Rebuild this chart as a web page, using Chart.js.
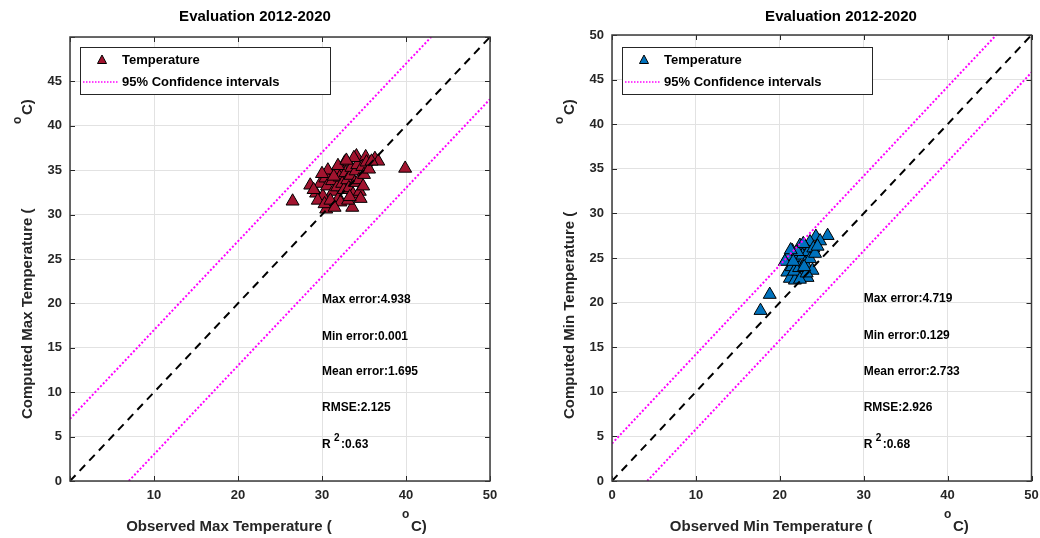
<!DOCTYPE html>
<html>
<head>
<meta charset="utf-8">
<script src="https://cdn.jsdelivr.net/npm/chart.js@4.4.1/dist/chart.umd.min.js"></script>
<style>
  html, body { margin: 0; padding: 0; background: #fff; }
  #wrap { position: relative; width: 1040px; height: 538px; }
  canvas { position: absolute; top: 0; }
  #chartMax { left: 0; }
  #chartMin { left: 520px; }
</style>
</head>
<body>
<div id="wrap">
  <canvas id="chartMax" width="520" height="538"></canvas>
  <canvas id="chartMin" width="520" height="538"></canvas>
</div>
<script>
// --- data ---
const AXIS_MIN = 0;
const AXIS_MAX = 50;

const maxObserved = [26.5, 39.9, 34.1, 35.2, 36.3, 36.7, 32.7, 32.3, 30.5, 33.6, 28.6, 29.3, 29.8, 30.1, 30.4,
  30.6, 30.9, 31.2, 31.3, 31.6, 31.8, 32.0, 32.1, 32.4, 32.6, 32.8, 33.0, 33.2, 33.4, 33.5, 33.7, 33.9, 34.0,
  34.2, 34.4, 34.5, 34.8, 35.0, 35.3, 35.6, 34.6, 29.5, 30.3, 31.0, 32.2, 31.5, 33.1, 30.7, 31.9, 33.8, 35.9,
  29.0, 34.9, 32.9, 31.4, 30.0, 33.3];
const maxComputed = [31.5, 35.2, 36.6, 36.5, 36.3, 36.0, 35.9, 35.1, 30.6, 30.8, 33.3, 32.4, 33.5, 32.1, 34.1,
  33.2, 34.6, 33.8, 32.6, 34.9, 33.1, 31.9, 34.2, 33.5, 32.8, 34.7, 33.9, 33.0, 34.4, 35.3, 32.3, 33.6, 34.9,
  35.6, 33.9, 32.6, 35.4, 34.5, 35.9, 35.1, 31.8, 31.6, 31.2, 31.6, 31.4, 30.8, 31.6, 35.0, 35.5, 36.4, 36.0,
  32.8, 33.2, 36.1, 34.3, 34.6, 32.0];

const minObserved = [17.7, 18.8, 25.7, 24.3, 23.6, 24.8, 23.0, 22.4, 21.5, 21.0, 20.6, 20.9, 21.2, 21.8, 22.6,
  23.3, 21.4, 22.0, 22.7, 23.4, 24.0, 21.7, 22.3, 23.0, 23.6, 24.2, 22.1, 21.3, 22.8, 23.9, 22.4, 21.6, 23.2,
  24.5, 22.9];
const minComputed = [19.1, 20.9, 27.5, 27.4, 26.8, 26.9, 26.3, 26.4, 25.8, 25.2, 24.6, 23.4, 22.7, 22.5, 22.9,
  22.8, 24.0, 24.8, 25.3, 25.7, 26.1, 23.5, 23.9, 24.4, 24.9, 25.5, 25.7, 25.9, 26.6, 23.6, 22.6, 24.6, 23.3,
  26.3, 24.0];

const maxBandOffset = 7;
const minBandOffset = 4.2;

const maxStats = ['Max error:4.938', 'Min error:0.001', 'Mean error:1.695', 'RMSE:2.125'];
const maxR2 = ':0.63';
const minStats = ['Max error:4.719', 'Min error:0.129', 'Mean error:2.733', 'RMSE:2.926'];
const minR2 = ':0.68';

const FONT = '"Liberation Sans", Arial, Helvetica, sans-serif';
const INK = '#262626';

// draws the MATLAB-ish furniture: box, inward ticks, titles, legend, stats text
const decoPlugin = {
  id: 'deco',
  afterDraw(chart, args, o) {
    const ctx = chart.ctx;
    const a = chart.chartArea;
    const xs = chart.scales.x, ys = chart.scales.y;
    ctx.save();

    // inward tick marks
    ctx.strokeStyle = INK;
    ctx.lineWidth = 1;
    ctx.beginPath();
    xs.ticks.forEach(t => {
      const px = Math.round(xs.getPixelForValue(t.value)) + 0.5;
      ctx.moveTo(px, a.bottom); ctx.lineTo(px, a.bottom - 5);
      ctx.moveTo(px, a.top); ctx.lineTo(px, a.top + 5);
    });
    ys.ticks.forEach(t => {
      const py = Math.round(ys.getPixelForValue(t.value)) + 0.5;
      ctx.moveTo(a.left, py); ctx.lineTo(a.left + 5, py);
      ctx.moveTo(a.right, py); ctx.lineTo(a.right - 5, py);
    });
    ctx.stroke();

    // box
    ctx.strokeStyle = '#3a3a3a';
    ctx.lineWidth = 1.5;
    ctx.strokeRect(a.left, a.top, a.right - a.left, a.bottom - a.top);

    // title
    ctx.fillStyle = '#000';
    ctx.font = 'bold 15px ' + FONT;
    ctx.textAlign = 'center';
    ctx.textBaseline = 'middle';
    ctx.fillText('Evaluation 2012-2020', o.titleX, 17);

    // x title with superscript degree
    ctx.fillStyle = INK;
    ctx.font = 'bold 15px ' + FONT;
    ctx.textAlign = 'center';
    ctx.fillText(o.xTitle, a.left + 159, 527);
    ctx.textAlign = 'left';
    ctx.fillText('C)', a.left + 341, 527);
    ctx.font = 'bold 12px ' + FONT;
    ctx.fillText('o', a.left + 332, 515);

    // y title, rotated
    ctx.save();
    ctx.translate(a.left - 42, 419);
    ctx.rotate(-Math.PI / 2);
    ctx.font = 'bold 15px ' + FONT;
    ctx.textAlign = 'left';
    ctx.fillText(o.yTitle, 0, 0);
    ctx.fillText('C)', 304, 0);
    ctx.font = 'bold 12px ' + FONT;
    ctx.fillText('o', 295, -10);
    ctx.restore();

    // legend
    const lx = a.left + 10, ly = 47;
    ctx.fillStyle = '#fff';
    ctx.fillRect(lx, ly, 250, 47);
    ctx.strokeStyle = INK;
    ctx.lineWidth = 1;
    ctx.strokeRect(lx + 0.5, ly + 0.5, 250, 47);
    ctx.beginPath();
    ctx.moveTo(lx + 22, ly + 8);
    ctx.lineTo(lx + 26.5, ly + 16.5);
    ctx.lineTo(lx + 17.5, ly + 16.5);
    ctx.closePath();
    ctx.fillStyle = o.color;
    ctx.fill();
    ctx.strokeStyle = '#000';
    ctx.stroke();
    ctx.save();
    ctx.strokeStyle = '#ff00ff';
    ctx.lineWidth = 1.5;
    ctx.setLineDash([1.5, 1.5]);
    ctx.beginPath();
    ctx.moveTo(lx + 3, ly + 35); ctx.lineTo(lx + 38, ly + 35);
    ctx.stroke();
    ctx.restore();
    ctx.fillStyle = '#000';
    ctx.font = 'bold 13px ' + FONT;
    ctx.textAlign = 'left';
    ctx.textBaseline = 'middle';
    ctx.fillText('Temperature', lx + 42, ly + 13);
    ctx.fillText('95% Confidence intervals', lx + 42, ly + 35);

    // stats
    const sx = xs.getPixelForValue(30);
    const rows = [20.4, 16.3, 12.3, 8.2];
    ctx.font = 'bold 12px ' + FONT;
    o.stats.forEach((s, i) => ctx.fillText(s, sx, ys.getPixelForValue(rows[i])));
    const ry = ys.getPixelForValue(4.1);
    ctx.fillText('R', sx, ry);
    ctx.fillText(o.r2, sx + 19, ry);
    ctx.font = 'bold 10px ' + FONT;
    ctx.fillText('2', sx + 12, ry - 6);

    ctx.restore();
  }
};

function buildChart(canvasId, cfg) {
  const points = cfg.observed.map((x, i) => ({ x: x, y: cfg.computed[i] }));
  const off = cfg.band;
  const tickFont = { family: FONT, size: 13, weight: 'bold' };

  new Chart(document.getElementById(canvasId), {
    type: 'scatter',
    data: {
      datasets: [
        {
          label: 'upper',
          data: [{ x: AXIS_MIN, y: AXIS_MIN + off }, { x: AXIS_MAX - off, y: AXIS_MAX }],
          showLine: true, borderColor: '#ff00ff', borderWidth: 2, borderDash: [2, 2], pointRadius: 0
        },
        {
          label: 'lower',
          data: [{ x: AXIS_MIN + off, y: AXIS_MIN }, { x: AXIS_MAX, y: AXIS_MAX - off }],
          showLine: true, borderColor: '#ff00ff', borderWidth: 2, borderDash: [2, 2], pointRadius: 0
        },
        {
          label: '1:1',
          data: [{ x: AXIS_MIN, y: AXIS_MIN }, { x: AXIS_MAX, y: AXIS_MAX }],
          showLine: true, borderColor: '#000', borderWidth: 2, borderDash: [8, 6], pointRadius: 0
        },
        {
          label: 'Temperature',
          data: points,
          pointStyle: 'triangle',
          pointRadius: 7.5,
          backgroundColor: cfg.color,
          borderColor: '#000',
          borderWidth: 1
        }
      ]
    },
    options: {
      responsive: false,
      animation: false,
      devicePixelRatio: 1,
      layout: { padding: { top: cfg.padTop, right: cfg.padRight, left: 0, bottom: 0 } },
      plugins: {
        legend: { display: false },
        tooltip: { enabled: false },
        deco: {
          titleX: cfg.titleX, xTitle: cfg.xTitle, yTitle: cfg.yTitle,
          color: cfg.color, stats: cfg.stats, r2: cfg.r2
        }
      },
      scales: {
        x: {
          type: 'linear', min: AXIS_MIN, max: AXIS_MAX,
          ticks: {
            stepSize: 10, font: tickFont, color: INK, padding: 7, maxRotation: 0,
            callback: v => (cfg.hideX0 && v === 0) ? '' : v
          },
          grid: { color: '#e2e2e2', drawTicks: false },
          border: { display: false },
          afterFit: s => { s.height = 57; s.paddingRight = 0; s.paddingLeft = 0; }
        },
        y: {
          type: 'linear', min: AXIS_MIN, max: AXIS_MAX,
          ticks: {
            stepSize: 5, font: tickFont, color: INK, padding: 8,
            callback: v => (cfg.hideY50 && v === 50) ? '' : v
          },
          grid: { color: '#e2e2e2', drawTicks: false },
          border: { display: false },
          afterFit: s => { s.width = cfg.yWidth; s.paddingTop = 0; s.paddingBottom = 0; }
        }
      }
    },
    plugins: [decoPlugin]
  });
}

buildChart('chartMax', {
  observed: maxObserved, computed: maxComputed, band: maxBandOffset,
  color: '#A2142F', stats: maxStats, r2: maxR2,
  xTitle: 'Observed Max Temperature (', yTitle: 'Computed Max Temperature (',
  titleX: 255, padTop: 37, padRight: 30, yWidth: 70, hideX0: true, hideY50: true
});

buildChart('chartMin', {
  observed: minObserved, computed: minComputed, band: minBandOffset,
  color: '#0072BD', stats: minStats, r2: minR2,
  xTitle: 'Observed Min Temperature (', yTitle: 'Computed Min Temperature (',
  titleX: 321, padTop: 35, padRight: 8, yWidth: 92, hideX0: false, hideY50: false
});
</script>
</body>
</html>
